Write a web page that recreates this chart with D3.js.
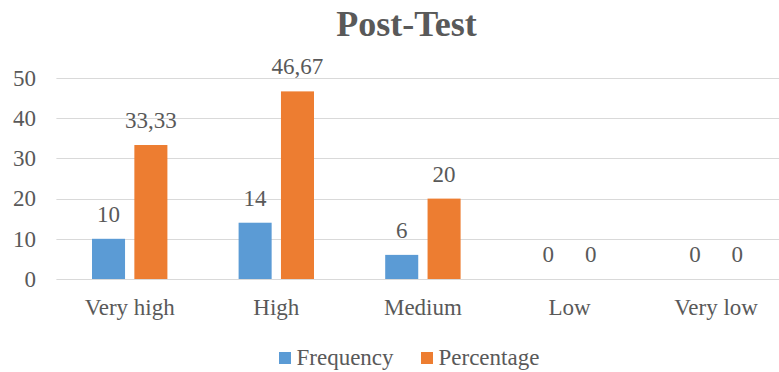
<!DOCTYPE html>
<html>
<head>
<meta charset="utf-8">
<script src="https://cdn.jsdelivr.net/npm/d3@7"></script>
<style>
  html, body { margin: 0; padding: 0; background: #fff; }
  svg { display: block; }
  svg text { font-family: "Liberation Serif", "Times New Roman", serif; }
</style>
</head>
<body>
<svg id="chart" width="779" height="372"></svg>
<script>
// Post-test score distribution
const categories = ["Very high", "High", "Medium", "Low", "Very low"];
const seriesNames = ["Frequency", "Percentage"];
const frequency = [10, 14, 6, 0, 0];
const percentage = [33.33, 46.67, 20, 0, 0];
const yTicks = [0, 10, 20, 30, 40, 50];

const colors = { Frequency: "#5B9BD5", Percentage: "#ED7D31" };
const textColor = "#595959";
const serif = "Liberation Serif, Times New Roman, serif";
const fs = 23;

const svg = d3.select("#chart");
const plot = { left: 56.4, right: 789.4, top: 78, bottom: 279 };

const x = d3.scaleBand().domain(categories).range([plot.left, plot.right]).paddingInner(0).paddingOuter(0);
const xs = d3.scaleBand().domain(seriesNames).range([x.bandwidth() / 2 - 37.7, x.bandwidth() / 2 + 37.7]).paddingInner(0.22);
const y = d3.scaleLinear().domain([0, 50]).range([plot.bottom, plot.top]);

// Title
svg.append("text")
  .attr("x", 406.5).attr("y", 36)
  .attr("text-anchor", "middle")
  .attr("font-family", serif)
  .attr("font-size", 36).attr("font-weight", "bold")
  .attr("fill", textColor)
  .text("Post-Test");

// Gridlines
svg.append("g")
  .selectAll("line")
  .data(yTicks)
  .join("line")
  .attr("x1", plot.left).attr("x2", 779)
  .attr("y1", d => Math.round(y(d)) + 0.5).attr("y2", d => Math.round(y(d)) + 0.5)
  .attr("stroke", "#D9D9D9").attr("stroke-width", 1);

// Y axis labels
const yAxis = d3.axisLeft(y).tickValues(yTicks).tickSize(0).tickPadding(0);
const yg = svg.append("g").attr("transform", "translate(36,0)").call(yAxis);
yg.attr("font-family", serif).attr("font-size", fs);
yg.select(".domain").remove();
yg.selectAll("text").attr("fill", textColor);

// X axis labels
const xAxis = d3.axisBottom(x).tickSize(0).tickPadding(0);
const xg = svg.append("g").attr("transform", "translate(0,297)").call(xAxis);
xg.attr("font-family", serif).attr("font-size", fs);
xg.select(".domain").remove();
xg.selectAll("text").attr("fill", textColor).attr("dy", "0.8em");

// Bars and value labels
const rows = categories.map((c, i) => ({ category: c, values: [
  { series: "Frequency", value: frequency[i] },
  { series: "Percentage", value: percentage[i] }
]}));

const fmt = v => String(v).replace(".", ",");

const groups = svg.append("g")
  .selectAll("g")
  .data(rows)
  .join("g")
  .attr("transform", d => `translate(${x(d.category)},0)`);

groups.selectAll("rect")
  .data(d => d.values)
  .join("rect")
  .attr("x", d => xs(d.series))
  .attr("width", xs.bandwidth())
  .attr("y", d => y(d.value))
  .attr("height", d => y(0) - y(d.value))
  .attr("fill", d => colors[d.series]);

groups.selectAll("text")
  .data(d => d.values)
  .join("text")
  .attr("x", d => xs(d.series) + xs.bandwidth() / 2)
  .attr("y", d => y(d.value) - 17)
  .attr("text-anchor", "middle")
  .attr("font-family", serif)
  .attr("font-size", fs).attr("fill", textColor)
  .text(d => fmt(d.value));

// Legend
const legendItems = [
  { name: "Frequency", sx: 279, tx: 296.5 },
  { name: "Percentage", sx: 421, tx: 438.5 }
];
const lg = svg.append("g");
lg.selectAll("rect")
  .data(legendItems)
  .join("rect")
  .attr("x", d => d.sx).attr("y", 352)
  .attr("width", 12).attr("height", 12)
  .attr("fill", d => colors[d.name]);
lg.selectAll("text")
  .data(legendItems)
  .join("text")
  .attr("x", d => d.tx).attr("y", 365)
  .attr("font-family", serif)
  .attr("font-size", fs).attr("fill", textColor)
  .text(d => d.name);
</script>
</body>
</html>
